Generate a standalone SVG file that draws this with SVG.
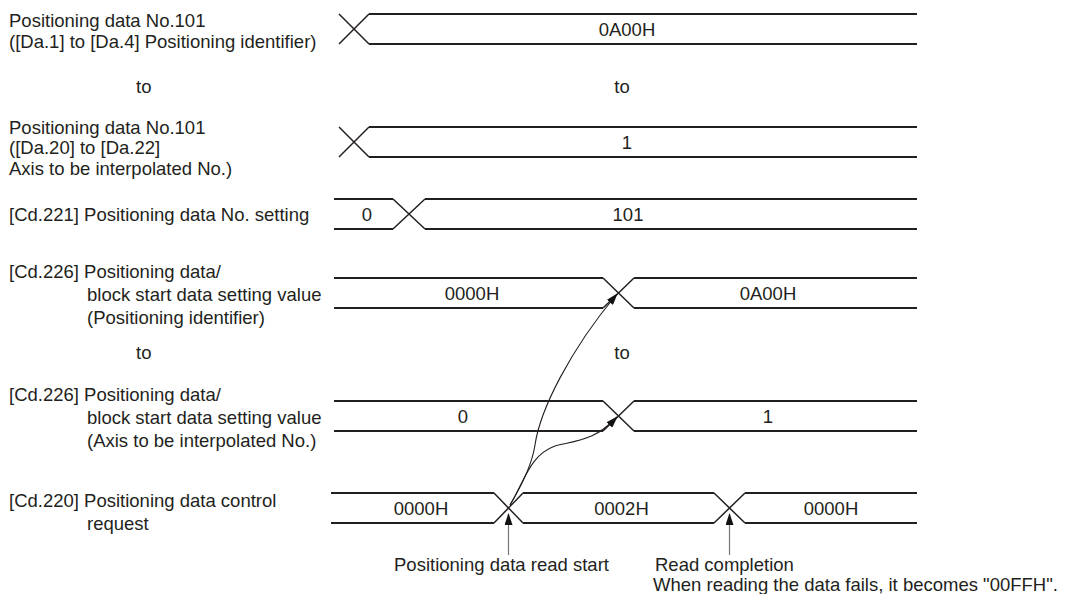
<svg xmlns="http://www.w3.org/2000/svg" width="1077" height="594" viewBox="0 0 1077 594">
<style>
text{font-family:"Liberation Sans",Arial,sans-serif;font-size:18.5px;fill:#231f20}
.c{text-anchor:middle}
.bus{fill:none;stroke:#231f20;stroke-width:2}
.x{fill:none;stroke:#231f20;stroke-width:1.5}
.cv{fill:none;stroke:#231f20;stroke-width:1.1}
.ar{fill:none;stroke:#777;stroke-width:1.2}
</style>
<defs>
<marker id="ah" markerWidth="12" markerHeight="8" refX="11" refY="4" orient="auto" markerUnits="userSpaceOnUse">
<path d="M0,0 L12,4 L0,8 Z" fill="#111"/>
</marker>
</defs>
<rect width="1077" height="594" fill="#fff"/>

<g id="labels">
<text x="9" y="27">Positioning data No.101</text>
<text x="9" y="47.5">([Da.1] to [Da.4] Positioning identifier)</text>
<text x="136" y="93">to</text>
<text x="9" y="133.5">Positioning data No.101</text>
<text x="9" y="154">([Da.20] to [Da.22]</text>
<text x="9" y="174.5">Axis to be interpolated No.)</text>
<text x="9" y="220.5">[Cd.221] Positioning data No. setting</text>
<text x="9" y="278">[Cd.226] Positioning data/</text>
<text x="87" y="301">block start data setting value</text>
<text x="87" y="324">(Positioning identifier)</text>
<text x="136" y="359">to</text>
<text x="9" y="401">[Cd.226] Positioning data/</text>
<text x="87" y="424">block start data setting value</text>
<text x="87" y="447">(Axis to be interpolated No.)</text>
<text x="9" y="507">[Cd.220] Positioning data control</text>
<text x="87" y="530">request</text>
</g>

<g id="row1">
<path class="x" d="M339,14 L369,44 M339,44 L369,14"/>
<path class="bus" d="M369,14 H917 M369,44 H917"/>
<text class="c" x="627" y="35.5">0A00H</text>
</g>
<text class="c" x="622" y="93">to</text>

<g id="row2">
<path class="x" d="M339,127 L369,157 M339,157 L369,127"/>
<path class="bus" d="M369,127 H917 M369,157 H917"/>
<text class="c" x="627" y="148.5">1</text>
</g>

<g id="row3">
<path class="bus" d="M334,199 H393 M334,229 H393 M425,199 H917 M425,229 H917"/>
<path class="x" d="M393,199 L425,229 M393,229 L425,199"/>
<text class="c" x="367" y="220.5">0</text>
<text class="c" x="628" y="220.5">101</text>
</g>

<g id="row4">
<path class="bus" d="M334,278 H603 M334,308 H603 M634,278 H917 M634,308 H917"/>
<path class="x" d="M603,278 L634,308 M603,308 L634,278"/>
<text class="c" x="472" y="299.5">0000H</text>
<text class="c" x="768" y="299.5">0A00H</text>
</g>
<text class="c" x="622" y="359">to</text>

<g id="row5">
<path class="bus" d="M334,401 H603 M334,431 H603 M634,401 H917 M634,431 H917"/>
<path class="x" d="M603,401 L634,431 M603,431 L634,401"/>
<text class="c" x="463" y="422.5">0</text>
<text class="c" x="768" y="422.5">1</text>
</g>

<g id="row6">
<path class="bus" d="M331,493 H494 M331,523 H494 M523,493 H714 M523,523 H714 M745,493 H917 M745,523 H917"/>
<path class="x" d="M494,493 L523,523 M494,523 L523,493 M714,493 L745,523 M714,523 L745,493"/>
<text class="c" x="421" y="514.5">0000H</text>
<text class="c" x="621.5" y="514.5">0002H</text>
<text class="c" x="831" y="514.5">0000H</text>
</g>

<g id="connectors">
<path class="cv" d="M510,505 C522,485 532,465 535,445 C540,410 570,350 617,294" marker-end="url(#ah)"/>
<path class="cv" d="M510,505 C525,480 530,455 555,446 C580,440 595,440 617,417" marker-end="url(#ah)"/>
<path class="ar" d="M508.5,555 V514" marker-end="url(#ah)"/>
<path class="ar" d="M729.5,555 V514" marker-end="url(#ah)"/>
</g>

<g id="notes">
<text x="394" y="571">Positioning data read start</text>
<text x="655" y="571">Read completion</text>
<text x="653" y="590.5">When reading the data fails, it becomes "00FFH".</text>
</g>
</svg>
